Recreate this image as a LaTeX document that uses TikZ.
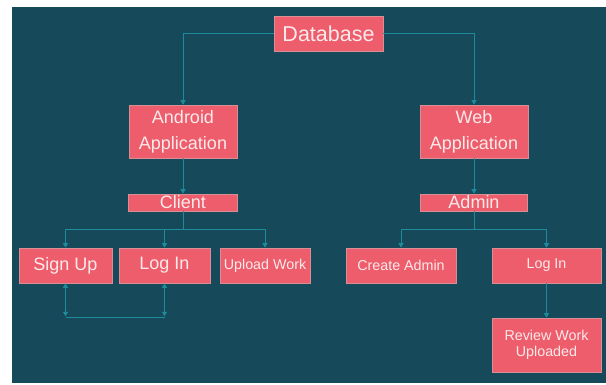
\documentclass[tikz,border=0pt]{standalone}
\usepackage{fontspec}
\setmainfont{Liberation Sans}
\usetikzlibrary{arrows.meta,calc}

\definecolor{bgteal}{HTML}{164A5B}
\definecolor{boxcoral}{HTML}{EE5D6C}
\definecolor{boxedge}{HTML}{D98E96}
\definecolor{linkteal}{HTML}{1E8B9A}
\definecolor{boxtext}{HTML}{FBEAEA}

\tikzset{
  box/.style={draw=boxedge, line width=0.6pt, fill=boxcoral, text=boxtext,
    inner sep=0pt, align=center, anchor=center},
  bigtxt/.style={font=\fontsize{21.5}{24}\selectfont},
  midtxt/.style={font=\fontsize{18}{26}\selectfont},
  smalltxt/.style={font=\fontsize{14.3}{16.5}\selectfont},
  link/.style={draw=linkteal, line width=0.9pt},
  arr/.style={link, -{Triangle[width=5pt,length=4.5pt]}},
  twoway/.style={link, {Triangle[width=5pt,length=4.5pt]}-{Triangle[width=5pt,length=4.5pt]}}
}

\begin{document}
\begin{tikzpicture}[x=1pt, y=-1pt]
  % page and dark panel
  \useasboundingbox (0,0) rectangle (606,385);
  \fill[white] (0,0) rectangle (606,385);
  \fill[bgteal] (12,7) rectangle (606,383);

  % boxes
  \node[box, bigtxt, minimum width=109pt, minimum height=35pt] (db) at (328.5,33.5) {Database};
  \node[box, midtxt, minimum width=108pt, minimum height=53pt] (android) at (183,131.5) {Android\\Application};
  \node[box, midtxt, minimum width=108pt, minimum height=53pt] (web) at (474,131.5) {Web\\Application};
  \node[box, midtxt, minimum width=109pt, minimum height=17pt] (client) at (183,202.5) {Client};
  \node[box, midtxt, minimum width=107pt, minimum height=17pt] (admin) at (474,202.5) {Admin};

  \node[box, midtxt, minimum width=93pt, minimum height=35pt] (signup) at (65.5,265.5) {Sign Up};
  \node[box, midtxt, minimum width=91pt, minimum height=35pt] (loginA) at (164.5,265.5) {Log In};
  \node[box, smalltxt, minimum width=90pt, minimum height=35pt] (upload) at (265,265.5) {Upload Work};
  \node[box, smalltxt, minimum width=110pt, minimum height=35pt] (create) at (401,265.5) {Create Admin};
  \node[box, smalltxt, minimum width=109pt, minimum height=35pt] (loginW) at (546.5,265.5) {Log In};
  \node[box, smalltxt, minimum width=109pt, minimum height=54pt] (review) at (546.5,345) {Review Work\\Uploaded};

  % database to the two applications
  \draw[arr] (db.west) -| (android.north);
  \draw[arr] (db.east) -| (web.north);

  % applications to their user roles
  \draw[arr] (android.south) -- (client.north);
  \draw[arr] (web.south) -- (admin.north);

  % client branch
  \coordinate (cbus) at ($(client.south)+(0,18)$);
  \draw[link] (client.south) -- (cbus);
  \draw[arr] (cbus) -| (signup.north);
  \draw[arr] (cbus) -| (upload.north);
  \draw[arr] (loginA.north |- cbus) -- (loginA.north);

  % sign up and log in linked both ways
  \coordinate (sfoot) at ($(signup.south)+(0,34)$);
  \coordinate (lfoot) at (loginA.south |- sfoot);
  \draw[twoway] (signup.south) -- ($(sfoot)+(0,-1)$);
  \draw[twoway] (loginA.south) -- ($(lfoot)+(0,-1)$);
  \draw[link] (sfoot) -- (lfoot);

  % admin branch
  \coordinate (abus) at ($(admin.south)+(0,18)$);
  \draw[link] (admin.south) -- (abus);
  \draw[arr] (abus) -| (create.north);
  \draw[arr] (abus) -| (loginW.north);
  \draw[arr] (loginW.south) -- (review.north);
\end{tikzpicture}
\end{document}
